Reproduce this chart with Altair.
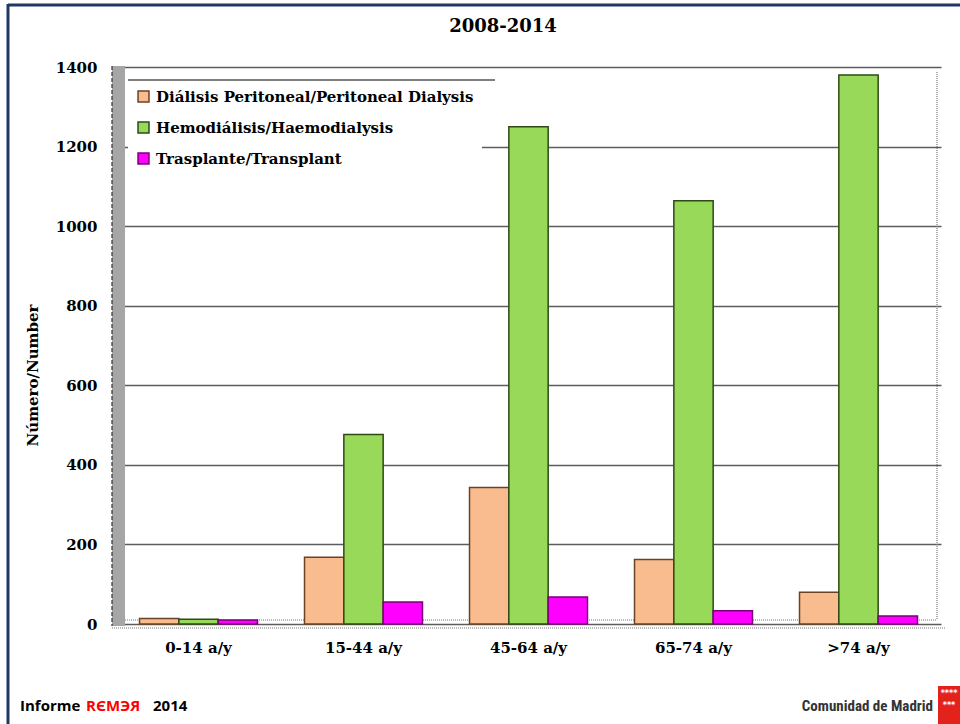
import altair as alt
import pandas as pd

# Incident patients on renal replacement therapy by age group, 2008-2014
age_groups = ["0-14 a/y", "15-44 a/y", "45-64 a/y", "65-74 a/y", ">74 a/y"]
series_names = [
    "Diálisis Peritoneal/Peritoneal Dialysis",
    "Hemodiálisis/Haemodialysis",
    "Trasplante/Transplant",
]
peritoneal = [14, 168, 343, 162, 80]
haemodialysis = [12, 476, 1250, 1064, 1380]
transplant = [10, 55, 68, 33, 20]
y_ticks = [0, 200, 400, 600, 800, 1000, 1200, 1400]

fill_colors = ["#F9BC8E", "#98D95A", "#FF00FF"]
edge_colors = ["#6B4226", "#2F4A14", "#7A007A"]

SERIF = "DejaVu Serif"
SANS = "Open Sans"

rows = []
for name, values in zip(series_names, [peritoneal, haemodialysis, transplant]):
    for group, v in zip(age_groups, values):
        rows.append({"grupo": group, "serie": name, "valor": v})
df = pd.DataFrame(rows)

W, H = 825, 557
one = pd.DataFrame({"k": [0]})

legend_style = dict(
    title=None, orient="none", legendX=12, legendY=14, fillColor="white",
    padding=8, symbolType="square", symbolSize=120, symbolStrokeWidth=1.5,
    labelFont=SERIF, labelFontSize=15, labelFontWeight="bold",
    labelColor="black", rowPadding=14, labelLimit=600, labelOffset=5,
)

bars = alt.Chart(df).mark_bar(strokeWidth=1.5).encode(
    x=alt.X(
        "grupo:N",
        sort=age_groups,
        title=None,
        scale=alt.Scale(paddingInner=0.285, paddingOuter=0.1425),
        axis=alt.Axis(
            labelAngle=0, labelFont=SERIF, labelFontSize=15, labelFontWeight="bold",
            labelColor="black", ticks=False, domain=False, labelPadding=16,
        ),
    ),
    xOffset=alt.XOffset("serie:N", sort=series_names,
                        scale=alt.Scale(paddingInner=0, paddingOuter=0)),
    y=alt.Y(
        "valor:Q",
        title="Número/Number",
        scale=alt.Scale(domain=[0, 1400], nice=False),
        axis=alt.Axis(
            values=y_ticks, format="d", grid=True, gridColor="#5c5c5c", gridWidth=1.4,
            domain=False, ticks=False, labelPadding=19,
            labelFont=SERIF, labelFontSize=15, labelFontWeight="bold", labelColor="black",
            titleFont=SERIF, titleFontSize=15, titleFontWeight="bold", titleColor="black",
            titleX=-76, titleY=308,
        ),
    ),
    color=alt.Color(
        "serie:N", sort=series_names,
        scale=alt.Scale(domain=series_names, range=fill_colors),
        legend=alt.Legend(**legend_style),
    ),
    stroke=alt.Stroke(
        "serie:N", sort=series_names,
        scale=alt.Scale(domain=series_names, range=edge_colors),
        legend=alt.Legend(**legend_style),
    ),
)

# grey side wall on the left of the plot
wall = alt.Chart(one).mark_rect(color="#A6A6A6").encode(
    x=alt.value(-4), x2=alt.value(9), y=alt.value(-1), y2=alt.value(H + 2)
)
wall_edge = alt.Chart(one).mark_rule(color="#333333", strokeDash=[4, 2], strokeWidth=1.2).encode(
    x=alt.value(-4), y=alt.value(-1), y2=alt.value(H + 2)
)
floor_back = alt.Chart(one).mark_rule(color="#777777", strokeDash=[1, 1], strokeWidth=1.2).encode(
    x=alt.value(9), x2=alt.value(W - 4), y=alt.value(H - 4)
)
floor_front = alt.Chart(one).mark_rule(color="#777777", strokeDash=[1, 1], strokeWidth=1.2).encode(
    x=alt.value(-4), x2=alt.value(W + 4), y=alt.value(H + 4)
)
right_edge = alt.Chart(one).mark_rule(color="#777777", strokeDash=[1, 1], strokeWidth=1.2).encode(
    x=alt.value(W - 4), y=alt.value(5), y2=alt.value(H - 4)
)
legend_line = alt.Chart(one).mark_rule(color="black", strokeWidth=1.2).encode(
    x=alt.value(12), x2=alt.value(379), y=alt.value(13)
)

# page frame (top and left edges)
frame_top = alt.Chart(one).mark_rule(color="#1F3864", strokeWidth=3).encode(
    x=alt.value(-108), x2=alt.value(W + 19), y=alt.value(-62)
)
frame_left = alt.Chart(one).mark_rule(color="#1F3864", strokeWidth=3).encode(
    x=alt.value(-108), y=alt.value(-63), y2=alt.value(H + 100)
)

title = alt.Chart(one).mark_text(
    text="2008-2014", font=SERIF, fontSize=18, fontWeight="bold", color="black",
    align="center", baseline="middle",
).encode(x=alt.value(387), y=alt.value(-40))

foot_a = alt.Chart(one).mark_text(
    text="Informe", font=SANS, fontSize=15, fontWeight="bold", color="black",
    align="left", baseline="middle",
).encode(x=alt.value(-96), y=alt.value(639))
foot_b = alt.Chart(one).mark_text(
    text="RЄMЭЯ", font=SANS, fontSize=15, fontWeight="bold", color="#FF0000",
    align="left", baseline="middle",
).encode(x=alt.value(-30), y=alt.value(639))
foot_c = alt.Chart(one).mark_text(
    text="2014", font=SANS, fontSize=15, fontWeight="bold", color="black",
    align="left", baseline="middle",
).encode(x=alt.value(37), y=alt.value(639))

madrid = alt.Chart(one).mark_text(
    text="Comunidad de Madrid", font="Liberation Sans Narrow, Roboto Condensed, Roboto",
    fontSize=15, fontWeight="bold", color="#333333", align="right", baseline="middle",
).encode(x=alt.value(817), y=alt.value(639))
logo = alt.Chart(one).mark_rect(color="#E3231B").encode(
    x=alt.value(822), x2=alt.value(W + 19), y=alt.value(619), y2=alt.value(H + 100)
)
stars_top = alt.Chart(one).mark_text(
    text="****", font="DejaVu Sans", fontSize=8, fontWeight="bold", color="white",
    align="center", baseline="middle",
).encode(x=alt.value(833), y=alt.value(627))
stars_bottom = alt.Chart(one).mark_text(
    text="***", font="DejaVu Sans", fontSize=8, fontWeight="bold", color="white",
    align="center", baseline="middle",
).encode(x=alt.value(833), y=alt.value(639))

chart = alt.layer(
    wall, wall_edge, floor_back, right_edge, bars, floor_front, legend_line,
    frame_top, frame_left, title, foot_a, foot_b, foot_c, madrid, logo,
    stars_top, stars_bottom,
).properties(
    width=W,
    height=H,
    padding={"left": 116, "top": 67, "right": 19, "bottom": 100},
    autosize=alt.AutoSizeParams(type="none"),
    background="white",
).configure_view(strokeWidth=0)

chart.save("out.html", embed_options={"renderer": "svg", "actions": False})
